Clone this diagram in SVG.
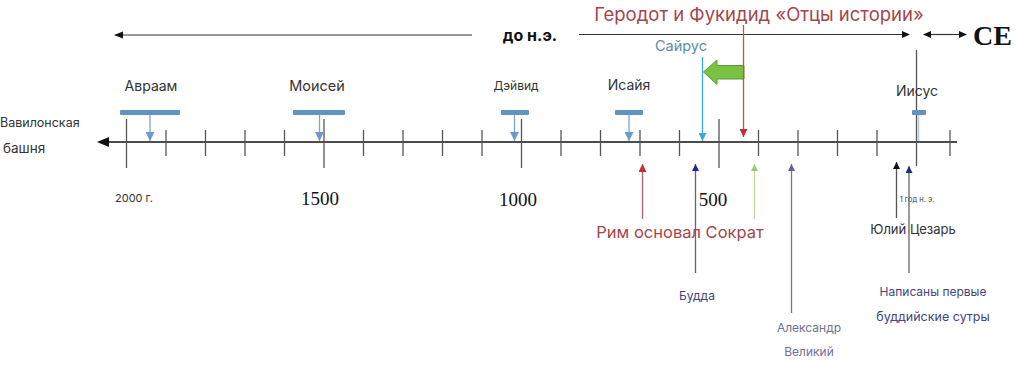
<svg xmlns="http://www.w3.org/2000/svg" width="1024" height="372" viewBox="0 0 1024 372">
<defs>
<style>
text{font-family:Inter,"Liberation Sans",Arial,sans-serif;}
.serif{font-family:"Liberation Serif","Times New Roman",serif;}
.tick{stroke:#555;stroke-width:1.3;}
.bar{fill:#5f93c2;}
.barArrow{stroke:#7aa6cc;stroke-width:1.3;fill:none;}
.lbl{font-size:14px;fill:#333;}
.conn{fill:none;}
</style>
<marker id="mBlack" viewBox="0 0 10 10" refX="10" refY="5" markerWidth="7" markerHeight="7" markerUnits="userSpaceOnUse" orient="auto"><path d="M0,0L10,5L0,10z" fill="#111"/></marker>
<marker id="mBlue" viewBox="0 0 10 10" refX="10" refY="5" markerWidth="9" markerHeight="9" markerUnits="userSpaceOnUse" orient="auto"><path d="M0,0L10,5L0,10z" fill="#6a9cc8"/></marker>
<marker id="mCyan" viewBox="0 0 10 10" refX="10" refY="5" markerWidth="8" markerHeight="8" markerUnits="userSpaceOnUse" orient="auto"><path d="M0,0L10,5L0,10z" fill="#3aa9d6"/></marker>
<marker id="mRed" viewBox="0 0 10 10" refX="10" refY="5" markerWidth="8" markerHeight="8" markerUnits="userSpaceOnUse" orient="auto"><path d="M0,0L10,5L0,10z" fill="#c62a36"/></marker>
<marker id="mNavy" viewBox="0 0 10 10" refX="10" refY="5" markerWidth="7" markerHeight="7" markerUnits="userSpaceOnUse" orient="auto"><path d="M0,0L10,5L0,10z" fill="#1e2a80"/></marker>
<marker id="mGreen" viewBox="0 0 10 10" refX="10" refY="5" markerWidth="7" markerHeight="7" markerUnits="userSpaceOnUse" orient="auto"><path d="M0,0L10,5L0,10z" fill="#9ccc7a"/></marker>
<marker id="mPurple" viewBox="0 0 10 10" refX="10" refY="5" markerWidth="7" markerHeight="7" markerUnits="userSpaceOnUse" orient="auto"><path d="M0,0L10,5L0,10z" fill="#6a5a9e"/></marker>
</defs>
<rect width="1024" height="372" fill="#fff"/>

<!-- main axis -->
<g id="axis">
<line x1="107" y1="142" x2="957" y2="142" stroke="#111" stroke-width="1.6"/>
<path d="M97,142L109,137L109,147z" fill="#111"/>
<g class="tick">
<line x1="126.5" y1="119" x2="126.5" y2="168"/>
<line x1="166" y1="130" x2="166" y2="156"/>
<line x1="205.5" y1="130" x2="205.5" y2="156"/>
<line x1="245" y1="130" x2="245" y2="156"/>
<line x1="284.5" y1="130" x2="284.5" y2="156"/>
<line x1="324" y1="119" x2="324" y2="168"/>
<line x1="363.5" y1="130" x2="363.5" y2="156"/>
<line x1="403" y1="130" x2="403" y2="156"/>
<line x1="442.5" y1="130" x2="442.5" y2="156"/>
<line x1="482" y1="130" x2="482" y2="156"/>
<line x1="521.5" y1="119" x2="521.5" y2="168"/>
<line x1="561" y1="130" x2="561" y2="156"/>
<line x1="600.5" y1="130" x2="600.5" y2="156"/>
<line x1="640" y1="130" x2="640" y2="156"/>
<line x1="679.5" y1="130" x2="679.5" y2="156"/>
<line x1="719" y1="119" x2="719" y2="168"/>
<line x1="758.5" y1="130" x2="758.5" y2="156"/>
<line x1="798" y1="130" x2="798" y2="156"/>
<line x1="837.5" y1="130" x2="837.5" y2="156"/>
<line x1="877" y1="130" x2="877" y2="156"/>
<line x1="916.5" y1="50" x2="916.5" y2="166"/>
<line x1="950" y1="130" x2="950" y2="156"/>
</g>
</g>

<!-- era header -->
<g id="era">
<line x1="122" y1="35" x2="472" y2="35" stroke="#333" stroke-width="1.2"/>
<path d="M114,35L123,31.5L123,38.5z" fill="#111"/>
<text x="530" y="40.5" font-size="16" font-weight="bold" fill="#111" text-anchor="middle">до н.э.</text>
<line x1="579" y1="34.5" x2="904" y2="34.5" stroke="#333" stroke-width="1.2"/>
<path d="M910,34.5L902,31L902,38z" fill="#111"/>
<line x1="930" y1="34.5" x2="960" y2="34.5" stroke="#333" stroke-width="1.2"/>
<path d="M923,34.5L931,31L931,38z" fill="#111"/>
<path d="M967,34.5L959,31L959,38z" fill="#111"/>
<text x="973" y="45" class="serif" font-size="28" font-weight="bold" fill="#111">CE</text>
</g>

<g id="babel">
<text x="0" y="127" font-size="12.5" fill="#333">Вавилонская</text>
<text x="3" y="153" font-size="13.5" fill="#333">башня</text>
</g>

<g id="abraham">
<text x="151" y="91" class="lbl" text-anchor="middle">Авраам</text>
<rect x="120" y="110" width="60" height="5" rx="1" class="bar"/>
</g>
<g id="moses">
<text x="317" y="91" font-size="14.5" fill="#333" text-anchor="middle">Моисей</text>
<rect x="293" y="110" width="52" height="5" rx="1" class="bar"/>
</g>
<g id="david">
<text x="516" y="90" font-size="12" fill="#333" text-anchor="middle">Дэйвид</text>
<rect x="501" y="110" width="28" height="5" rx="1" class="bar"/>
</g>
<g id="isaiah">
<text x="629" y="90" class="lbl" text-anchor="middle">Исайя</text>
<rect x="615" y="110" width="28" height="5" rx="1" class="bar"/>
</g>
<g id="jesus">
<text x="917" y="96" class="lbl" text-anchor="middle">Иисус</text>
<rect x="912" y="110" width="14" height="5" rx="1" class="bar"/>
</g>

<g id="herodotus">
<text x="759" y="21" font-size="18.5" fill="#a4454b" text-anchor="middle">Геродот и Фукидид «Отцы истории»</text>
</g>
<g id="cyrus">
<text x="681" y="51" font-size="14.5" fill="#5a8ea8" text-anchor="middle">Сайрус</text>
</g>
<g id="greenArrow">
<path d="M703.5,72L717,60L717,65.5L744,65.5L744,79L717,79L717,84.5z" fill="#7cc242" stroke="#5e9a35" stroke-width="1"/>
</g>

<g id="bottomLabels">
<text x="115" y="202" font-size="11" fill="#333">2000 г.</text>
<text x="320" y="205" class="serif" font-size="19" fill="#111" text-anchor="middle">1500</text>
<text x="518" y="206" class="serif" font-size="19" fill="#111" text-anchor="middle">1000</text>
<text x="713" y="206" class="serif" font-size="19" fill="#111" text-anchor="middle">500</text>
<text x="917" y="202" font-size="7.5" fill="#444" text-anchor="middle">1 год н. э.</text>
</g>
<g id="rome-socrates"><text x="680" y="238" font-size="16.5" fill="#a4454b" text-anchor="middle">Рим основал Сократ</text></g>
<g id="buddha"><text x="697" y="300" font-size="12" fill="#44457a" text-anchor="middle">Будда</text></g>
<g id="alexander">
<text x="809" y="332" font-size="12" fill="#707090" text-anchor="middle">Александр</text>
<text x="809" y="356" font-size="12" fill="#707090" text-anchor="middle">Великий</text>
</g>
<g id="caesar"><text x="913" y="234" font-size="13" fill="#333" text-anchor="middle">Юлий Цезарь</text></g>
<g id="sutras">
<text x="933" y="296" font-size="12" fill="#44457a" text-anchor="middle">Написаны первые</text>
<text x="933" y="321" font-size="12.5" fill="#44457a" text-anchor="middle">буддийские сутры</text>
</g>

<!-- connectors -->
<g id="connectors" class="conn">
<line x1="150" y1="115" x2="150" y2="141" class="barArrow" marker-end="url(#mBlue)"/>
<line x1="319.5" y1="115" x2="319.5" y2="141" class="barArrow" marker-end="url(#mBlue)"/>
<line x1="514.5" y1="115" x2="514.5" y2="141" class="barArrow" marker-end="url(#mBlue)"/>
<line x1="629" y1="115" x2="629" y2="141" class="barArrow" marker-end="url(#mBlue)"/>
<line x1="918.5" y1="115" x2="918.5" y2="141" stroke="#b8c8d8" stroke-width="1.5"/>
<line x1="702.5" y1="57" x2="702.5" y2="141" stroke="#3aa9d6" stroke-width="1.3" marker-end="url(#mCyan)"/>
<line x1="743.5" y1="25" x2="743.5" y2="137" stroke="#c8505a" stroke-width="1.3" marker-end="url(#mRed)"/>
<line x1="642.5" y1="219" x2="642.5" y2="164" stroke="#b06068" stroke-width="1.3" marker-end="url(#mRed)"/>
<line x1="695.5" y1="273" x2="695.5" y2="164" stroke="#666" stroke-width="1.3" marker-end="url(#mNavy)"/>
<line x1="754.5" y1="219" x2="754.5" y2="164" stroke="#bcd4a8" stroke-width="1.3" marker-end="url(#mGreen)"/>
<line x1="791.5" y1="313" x2="791.5" y2="164" stroke="#7a7288" stroke-width="1.3" marker-end="url(#mPurple)"/>
<line x1="896.5" y1="218" x2="896.5" y2="162" stroke="#555" stroke-width="1.3" marker-end="url(#mBlack)"/>
<line x1="909" y1="273" x2="909" y2="166" stroke="#666" stroke-width="1.3" marker-end="url(#mNavy)"/>
</g>
</svg>
